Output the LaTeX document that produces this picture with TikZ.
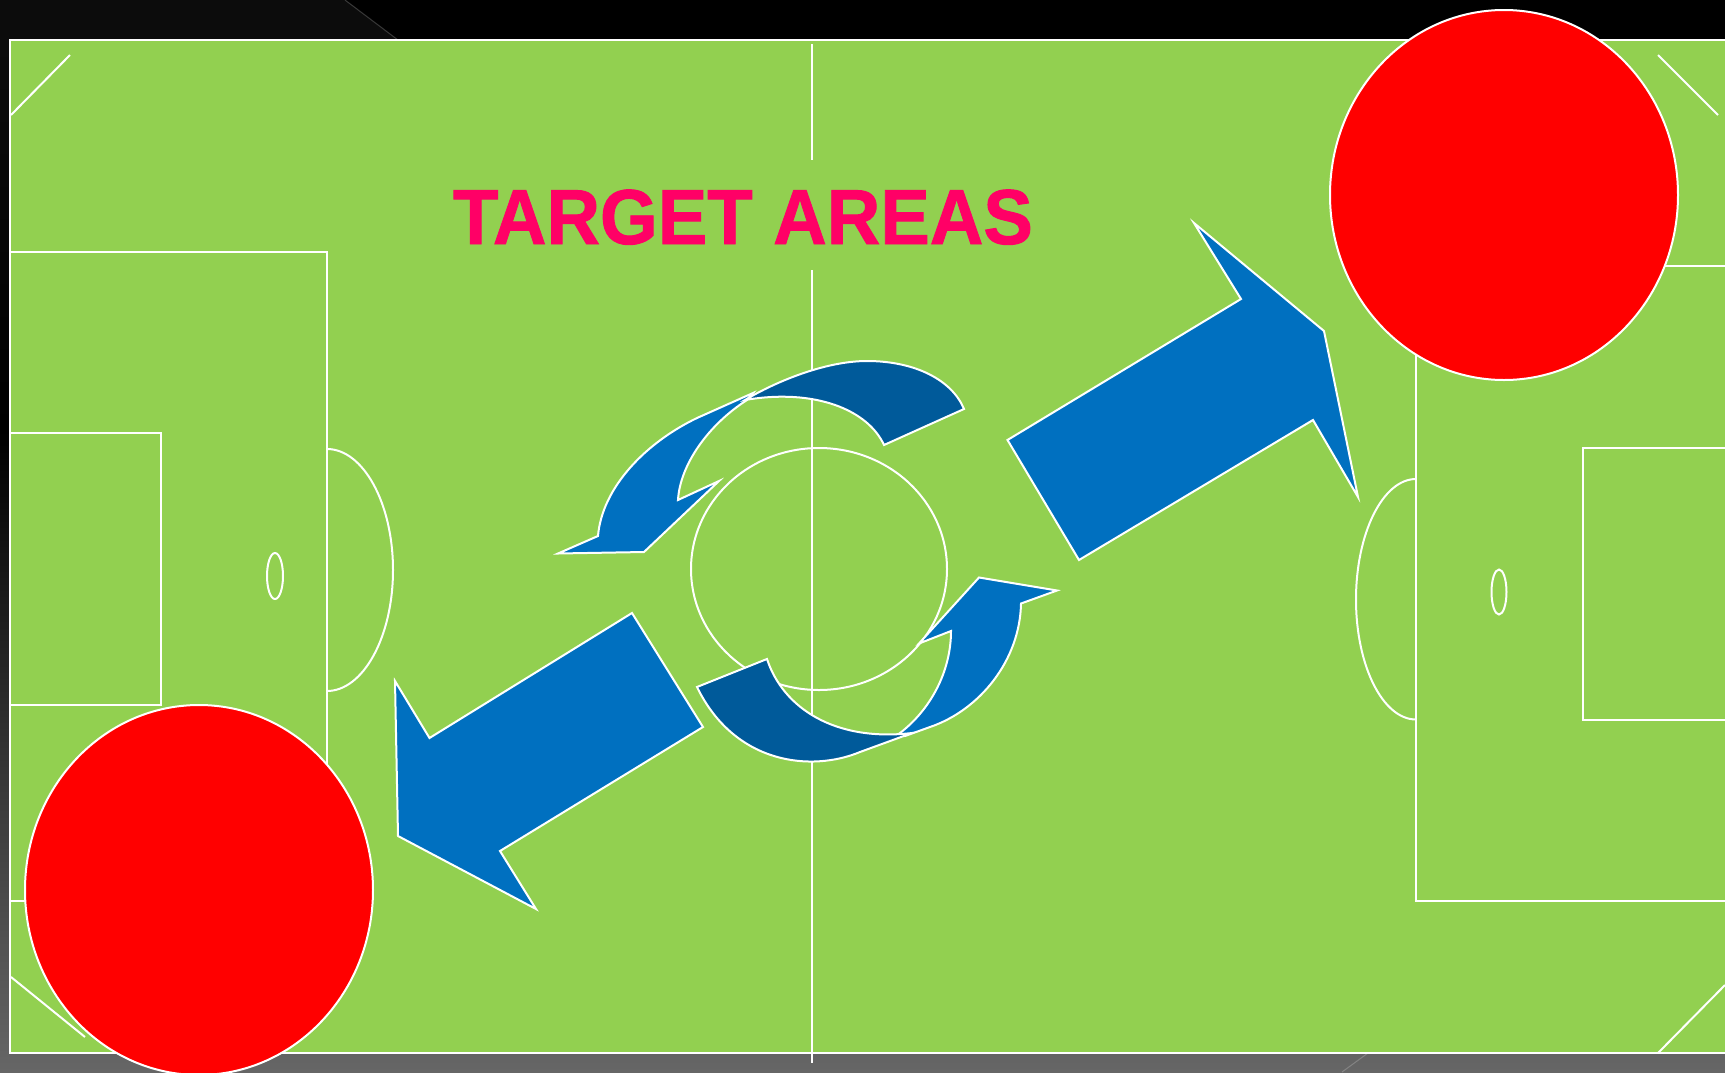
\documentclass[tikz,border=0pt]{standalone}
\usepackage{fontspec}
\usepackage{graphicx}
\setmainfont{Liberation Sans}
\newfontfamily\titlefont[BoldFeatures={FakeBold=1.2}]{Liberation Sans}
\definecolor{pitch}{HTML}{92D050}
\definecolor{bluea}{HTML}{0070C0}
\definecolor{blued}{HTML}{005A9A}
\definecolor{titlec}{HTML}{FF0066}
\definecolor{bgbot}{HTML}{666666}
\definecolor{bgtop}{HTML}{0C0C0C}
\tikzset{
  line/.style={draw=white,line width=2pt},
  arrowa/.style={draw=white,line width=2pt,fill=bluea,line join=miter},
  arrowd/.style={draw=white,line width=2pt,fill=blued,line join=miter},
  ball/.style={draw=white,line width=2pt,fill=red},
}
\begin{document}
\begin{tikzpicture}[x=1pt,y=-1pt]
\useasboundingbox (0,0) rectangle (1725,1072);
\clip (0,0) rectangle (1725,1072);
% background
\fill[black] (0,0) rectangle (1725,430);
\shade[top color=black,bottom color=bgbot] (0,430) rectangle (1725,1072);
\fill[bgtop] (0,0) -- (345,0) -- (398,40) -- (0,40) -- cycle;
\shade[top color=bgtop,bottom color=black] (0,40) rectangle (10,430);
\draw[white,opacity=0.2,line width=1pt] (345,0) -- (398,40);
\draw[white,opacity=0.2,line width=1pt] (1368,1053) -- (1342,1072);
% pitch
\draw[line,fill=pitch] (10.3,40) rectangle (1740,1053);
% markings
\draw[line] (812,44) -- (812,160);
\draw[line] (812,270) -- (812,1063);
\draw[line] (819,569) ellipse [x radius=128,y radius=121];
\draw[line] (10,252) -- (327,252) -- (327,901) -- (10,901);
\draw[line] (10,432.5) -- (161,432.5) -- (161,705) -- (10,705);
\draw[line] (275,576) ellipse [x radius=8,y radius=23];
\draw[line] (327,449) .. controls (363,449) and (393,503) .. (393,570) .. controls (393,637) and (363,691) .. (327,691);
\draw[line] (1740,266) -- (1416,266) -- (1416,901) -- (1740,901);
\draw[line] (1740,448) -- (1583,448) -- (1583,719.5) -- (1740,719.5);
\draw[line] (1499,592) ellipse [x radius=7.5,y radius=22.5];
\draw[line] (1416,479) .. controls (1383,479) and (1356,533) .. (1356,599.5) .. controls (1356,666) and (1383,719.5) .. (1416,719.5);
\draw[line] (11,115) -- (70,55);
\draw[line] (1658,55) -- (1718,115);
\draw[line] (11,977) -- (85,1037);
\draw[line] (1658,1053) -- (1725,985);
% title
\node[text=titlec,font=\titlefont\bfseries\fontsize{74.2}{74.2}\selectfont,inner sep=0pt,anchor=base] (title) at (743,244) {\scalebox{1}[1.05]{TARGET AREAS}};
% straight arrows
\path[arrowa] (1007.5,440) -- (1241,299) -- (1194,223) -- (1324,331) -- (1358,497) -- (1313,420) -- (1079,560) -- cycle;
\path[arrowa] (632,613) -- (703,727) -- (500,851) -- (536,909) -- (398,836) -- (395,681) -- (429.5,738) -- cycle;
% curved arrow, top
\path[arrowa] (753,393) -- (697,418) .. controls (645,443) and (602,488) .. (598,536) -- (558,553.5) -- (644,552) -- (719,481) -- (678,500) .. controls (680,465) and (708,425) .. (747,400) -- cycle;
\path[arrowd] (745,400) .. controls (775,382) and (825,361) .. (867,361) .. controls (915,361) and (952,380) .. (964,409) -- (884,445) .. controls (868,410) and (815,388) .. (745,400) -- cycle;
% curved arrow, bottom
\path[arrowa] (900,733) .. controls (930,710) and (951,672) .. (951,631) -- (919,643.5) -- (979,577.5) -- (1057,590.5) -- (1021,603.5) .. controls (1020,660) and (980,710) .. (930,727) -- (905,736) -- cycle;
\path[arrowd] (697,687) -- (767,659) .. controls (783,708) and (835,742) .. (912,733) -- (860,752) .. controls (812,772) and (735,765) .. (697,687) -- cycle;
% target circles
\path[ball] (1504,195) ellipse [x radius=174,y radius=185];
\path[ball] (199,890) ellipse [x radius=174,y radius=185];
\end{tikzpicture}
\end{document}
